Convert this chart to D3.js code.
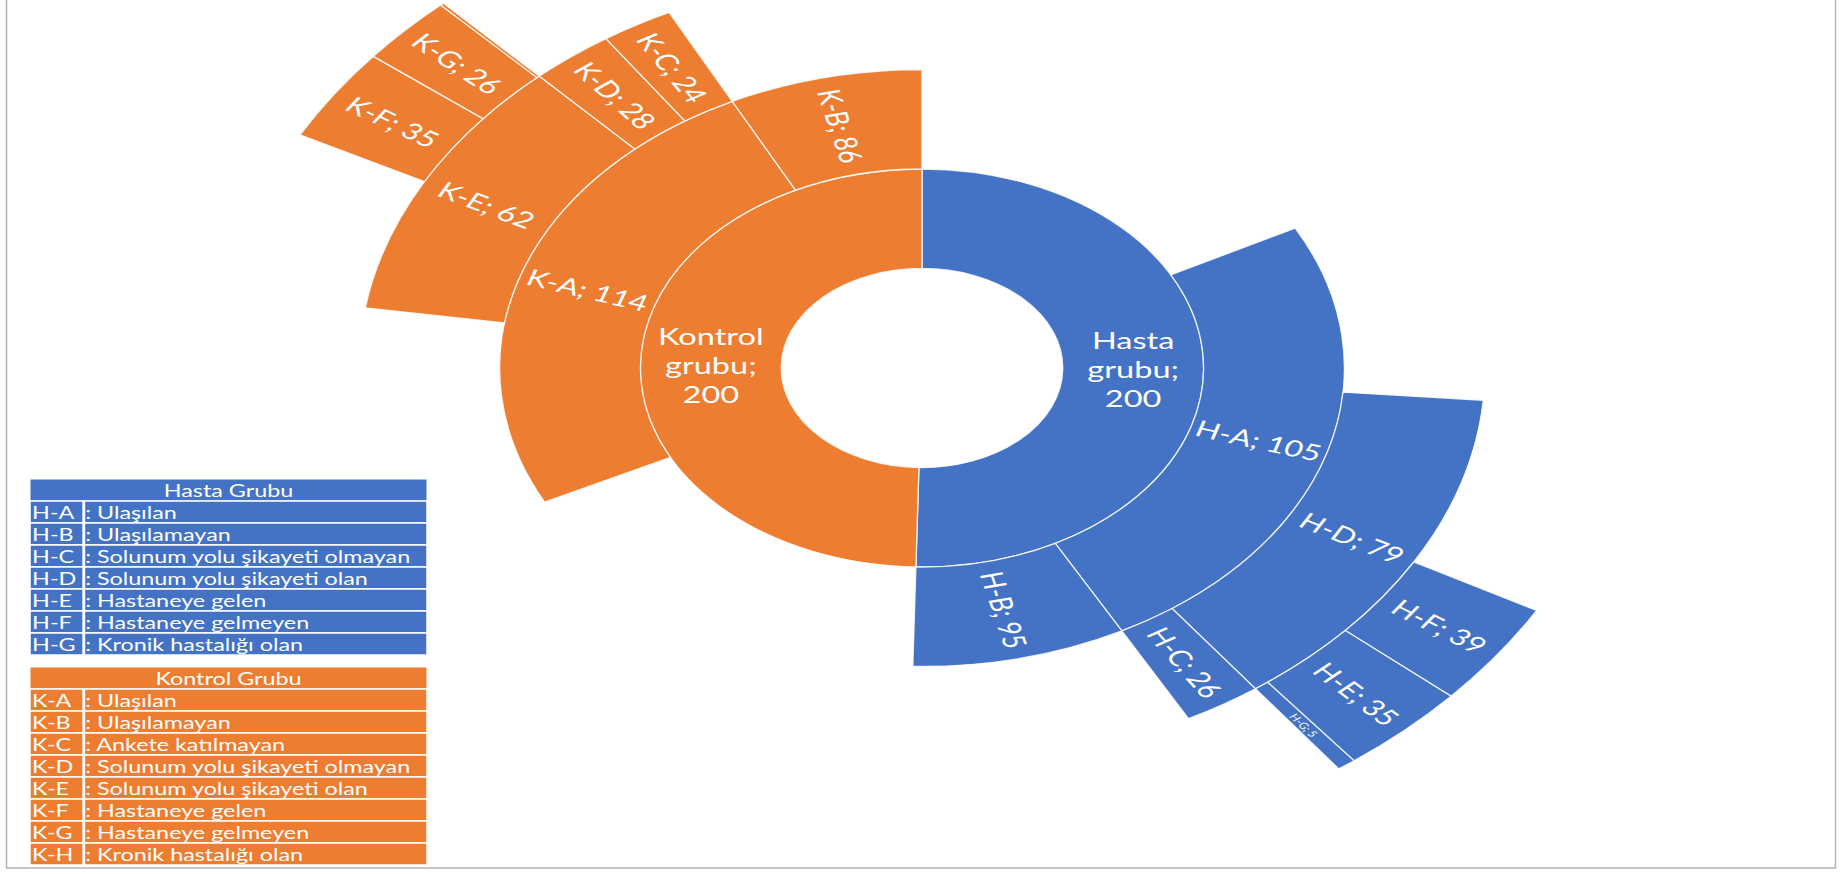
<html>
<head>
    <meta charset="utf-8">
    <title>sunburst</title>
    <style>
        body {
            margin: 0;
            background: #fff;
        }

        svg {
            display: block;
            font-family: Lato, "Open Sans", sans-serif;
        }

        .seg {
            stroke: #fff;
            stroke-opacity: 0.85;
            stroke-width: 1.3px;
            vector-effect: non-scaling-stroke;
        }

        .lbl {
            fill: #fff;
        }
    </style>
</head>

<body>
    <script src="https://d3js.org/d3.v7.min.js"></script>
    <script>
        // one row per node of the excel table, own value of each row
        var nodeNames = ["Hasta grubu", "H-A", "H-B", "H-C", "H-D", "H-E", "H-F", "H-G",
            "Kontrol grubu", "K-A", "K-B", "K-C", "K-D", "K-E", "K-F", "K-G", "K-H"];
        var nodeParents = ["", "Hasta grubu", "Hasta grubu", "H-A", "H-A", "H-D", "H-D", "H-D",
            "", "Kontrol grubu", "Kontrol grubu", "K-A", "K-A", "K-A", "K-E", "K-E", "K-E"];
        var nodeValues = [200, 105, 95, 26, 79, 35, 39, 5,
            200, 114, 86, 24, 28, 62, 35, 26, 1];

        // legend tables
        var hastaKeys = ["H-A", "H-B", "H-C", "H-D", "H-E", "H-F", "H-G"];
        var hastaDesc = [": Ulaşılan", ": Ulaşılamayan", ": Solunum yolu şikayeti olmayan",
            ": Solunum yolu şikayeti olan", ": Hastaneye gelen", ": Hastaneye gelmeyen",
            ": Kronik hastalığı olan"];
        var kontrolKeys = ["K-A", "K-B", "K-C", "K-D", "K-E", "K-F", "K-G", "K-H"];
        var kontrolDesc = [": Ulaşılan", ": Ulaşılamayan", ": Ankete katılmayan",
            ": Solunum yolu şikayeti olmayan", ": Solunum yolu şikayeti olan",
            ": Hastaneye gelen", ": Hastaneye gelmeyen", ": Kronik hastalığı olan"];

        var groupColor = {"Hasta grubu": "#4472C4", "Kontrol grubu": "#ED7D31"};

        var w = 1841,
            h = 874;
        var sx = 1.415; // the picture is stretched sideways

        var svg = d3.select('body').append('svg')
            .attr('width', w).attr('height', h);

        svg.append('rect').attr('width', w).attr('height', h).attr('fill', '#fff');

        // frame around the picture
        svg.append('rect')
            .attr('x', 6.5).attr('y', -2).attr('width', 1829).attr('height', 870)
            .attr('fill', 'none').attr('stroke', '#b4b4b4').attr('stroke-width', 1.5);

        function buildTree() {
            var root = {name: 'root', children: []};
            var byName = {};
            nodeNames.forEach(function (n, i) {
                byName[n] = {name: n, label: nodeValues[i], children: []};
            });
            nodeNames.forEach(function (n, i) {
                var p = nodeParents[i] ? byName[nodeParents[i]] : root;
                p.children.push(byName[n]);
            });
            // excel adds a parent's own value too: keep it as a hidden first child
            nodeNames.forEach(function (n, i) {
                var node = byName[n];
                if (node.children.length) {
                    node.children.unshift({name: n, self: true, size: nodeValues[i]});
                } else {
                    node.size = nodeValues[i];
                    delete node.children;
                }
            });
            return root;
        }

        var root = d3.hierarchy(buildTree())
            .sum(function (d) { return d.size || 0; })
            .sort(function (a, b) {
                if (a.data.self) return -1;
                if (b.data.self) return 1;
                return b.value - a.value;
            });

        d3.partition().size([2 * Math.PI, 1])(root);

        var radius = d3.scaleLinear().domain([1, 5]).range([99.5, 497.5]);

        var arc = d3.arc()
            .startAngle(function (d) { return d.x0; })
            .endAngle(function (d) { return d.x1; })
            .innerRadius(function (d) { return radius(d.depth); })
            .outerRadius(function (d) { return radius(d.depth + 1); });

        var nodes = root.descendants().filter(function (d) {
            return d.depth > 0 && !d.data.self;
        });

        function topName(d) {
            return d.ancestors().find(function (a) { return a.depth === 1; }).data.name;
        }

        var gChart = svg.append('g')
            .attr('transform', 'translate(922,368) scale(' + sx + ',1)');

        gChart.selectAll('path.seg')
            .data(nodes)
            .enter().append('path')
            .classed('seg', true)
            .attr('d', arc)
            .attr('fill', function (d) { return groupColor[topName(d)]; });

        // labels: centre ring flat and wrapped, outer rings along the radius
        nodes.forEach(function (d) {
            var a = (d.x0 + d.x1) / 2;
            var r = (radius(d.depth) + radius(d.depth + 1)) / 2;
            var px = r * Math.sin(a),
                py = -r * Math.cos(a);
            var txt = d.data.name + '; ' + d.data.label;
            var arcLen = (d.x1 - d.x0) * r;
            if (arcLen < 5) return;

            if (d.depth === 1) {
                var lines = txt.split(' ');
                var lh = 29;
                var t = gChart.append('text').classed('lbl', true)
                    .attr('text-anchor', 'middle')
                    .attr('font-size', 23)
                    .attr('x', px)
                    .attr('y', py - (lines.length - 1) * lh / 2 + 8);
                lines.forEach(function (l, i) {
                    t.append('tspan').attr('x', px).attr('dy', i ? lh : 0).text(l);
                });
                return;
            }

            var deg = a * 180 / Math.PI;
            var rot = deg < 180 ? deg - 90 : deg + 90;
            gChart.append('text').classed('lbl', true)
                .attr('transform', 'translate(' + px + ',' + py + ') rotate(' + rot + ')')
                .attr('text-anchor', 'middle')
                .attr('dominant-baseline', 'central')
                .attr('font-size', arcLen < 25 ? 9 : 22.5)
                .text(txt);
        });

        // legend tables, stretched like the chart
        var rowH = 22,
            tabW = 397 / sx,
            keyW = 37.5;

        function drawTable(top, title, keys, desc, color) {
            var g = svg.append('g')
                .attr('transform', 'translate(30,' + top + ') scale(' + sx + ',1)');
            g.append('rect').attr('width', tabW).attr('height', rowH)
                .attr('fill', color).attr('stroke', '#fff').attr('stroke-width', 1)
                .attr('vector-effect', 'non-scaling-stroke');
            g.append('text').classed('lbl', true)
                .attr('x', tabW / 2).attr('y', rowH / 2)
                .attr('text-anchor', 'middle').attr('dominant-baseline', 'central')
                .attr('font-size', 16.5).text(title);

            var rows = g.selectAll('g.row').data(keys).enter().append('g')
                .attr('transform', function (k, i) { return 'translate(0,' + (rowH * (i + 1)) + ')'; });
            rows.append('rect').attr('width', keyW).attr('height', rowH)
                .attr('fill', color).attr('stroke', '#fff').attr('stroke-width', 1.5)
                .attr('vector-effect', 'non-scaling-stroke');
            rows.append('rect').attr('x', keyW + 1).attr('width', tabW - keyW - 1).attr('height', rowH)
                .attr('fill', color).attr('stroke', '#fff').attr('stroke-width', 1.5)
                .attr('vector-effect', 'non-scaling-stroke');
            rows.append('text').classed('lbl', true)
                .attr('x', 1.5).attr('y', rowH / 2)
                .attr('dominant-baseline', 'central').attr('font-size', 16.5)
                .text(function (k) { return k; });
            rows.append('text').classed('lbl', true)
                .attr('x', 39).attr('y', rowH / 2)
                .attr('dominant-baseline', 'central').attr('font-size', 16.5)
                .text(function (k, i) { return desc[i]; });
        }

        drawTable(479, 'Hasta Grubu', hastaKeys, hastaDesc, groupColor["Hasta grubu"]);
        drawTable(667, 'Kontrol Grubu', kontrolKeys, kontrolDesc, groupColor["Kontrol grubu"]);
    </script>
</body>

</html>
